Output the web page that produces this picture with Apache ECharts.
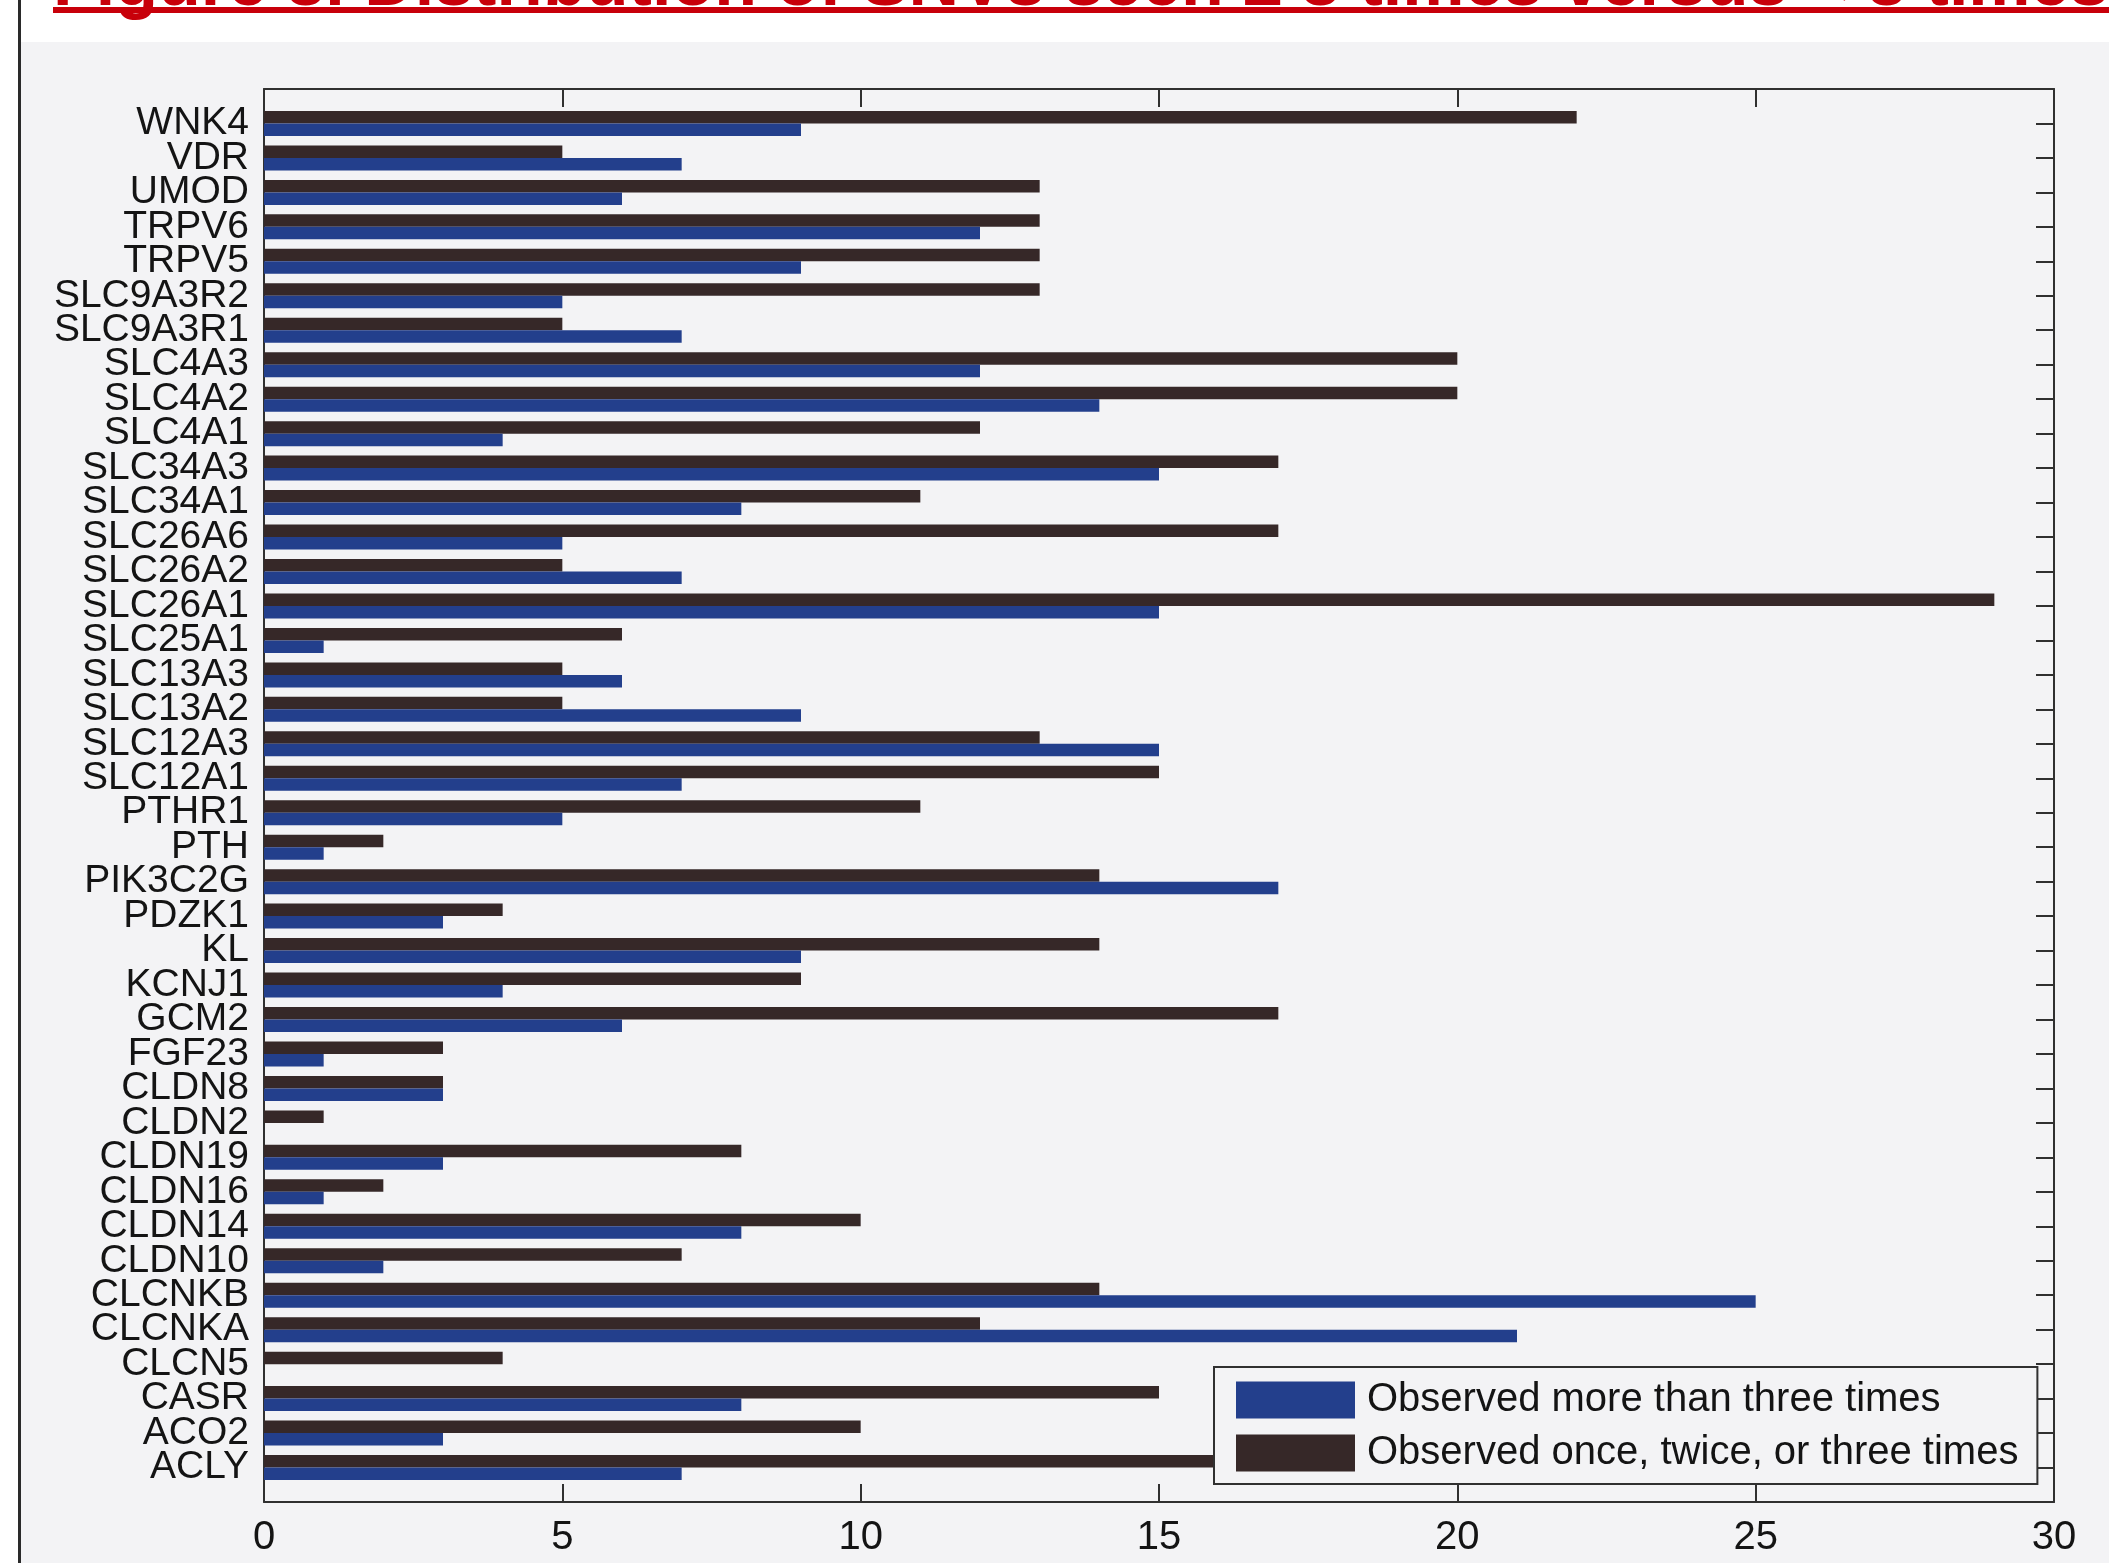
<!DOCTYPE html>
<html>
<head>
<meta charset="utf-8">
<title>SNV distribution</title>
<script src="https://cdn.jsdelivr.net/npm/echarts@6/dist/echarts.min.js"></script>
<style>
    html, body { margin: 0; padding: 0; background: #ffffff; }
    #chart { width: 2109px; height: 1563px; }
</style>
</head>
<body>
<div id="chart"></div>
<script>
// genes from bottom (ACLY) to top (WNK4), same order as the y axis
var genes = ["ACLY", "ACO2", "CASR", "CLCN5", "CLCNKA", "CLCNKB", "CLDN10", "CLDN14", "CLDN16", "CLDN19",
    "CLDN2", "CLDN8", "FGF23", "GCM2", "KCNJ1", "KL", "PDZK1", "PIK3C2G", "PTH", "PTHR1",
    "SLC12A1", "SLC12A3", "SLC13A2", "SLC13A3", "SLC25A1", "SLC26A1", "SLC26A2", "SLC26A6", "SLC34A1", "SLC34A3",
    "SLC4A1", "SLC4A2", "SLC4A3", "SLC9A3R1", "SLC9A3R2", "TRPV5", "TRPV6", "UMOD", "VDR", "WNK4"];

// Observed more than three times (blue)
var moreThanThree = [7, 3, 8, 0, 21, 25, 2, 8, 1, 3,
    0, 3, 1, 6, 4, 9, 3, 17, 1, 5,
    7, 15, 9, 6, 1, 15, 7, 5, 8, 15,
    4, 14, 12, 7, 5, 9, 12, 6, 7, 9];

// Observed once, twice, or three times (dark)
var oneToThree = [18, 10, 15, 4, 12, 14, 7, 10, 2, 8,
    1, 3, 3, 17, 9, 14, 4, 14, 2, 11,
    15, 13, 5, 5, 6, 29, 5, 17, 11, 17,
    12, 20, 20, 5, 13, 13, 13, 13, 5, 22];

var xTicks = { min: 0, max: 30, interval: 5 };

var seriesNames = ["Observed more than three times", "Observed once, twice, or three times"];
var titleText = "Figure 3. Distribution of SNVs seen \u2265 3 times versus < 3 times";

var FONT = "'Liberation Sans', Arial, Helvetica, sans-serif";
var PAPER = "#f3f3f5";
var BLUE = "#233f8c";
var DARK = "#362828";
var LINE = "#303030";
var TEXT = "#141414";

/**
 * MATLAB style limits: an empty slot below and above the genes
 */
function padded(arr, blank) {
    return [blank].concat(arr, [blank]);
}

function buildOption() {
    var cats = padded(genes, "");
    var tick = { show: true, inside: true, length: 18, lineStyle: { color: LINE, width: 2 } };
    var axisLine = { show: true, onZero: false, lineStyle: { color: LINE, width: 2 } };

    return {
        backgroundColor: PAPER,
        animation: false,
        textStyle: { fontFamily: FONT },
        graphic: [
            { type: "rect", shape: { x: 0, y: 0, width: 2109, height: 42 }, style: { fill: "#ffffff" }, z: -10 },
            { type: "rect", shape: { x: 0, y: 0, width: 19, height: 1563 }, style: { fill: "#ffffff" }, z: -10 },
            { type: "rect", shape: { x: 18, y: 0, width: 3, height: 1563 }, style: { fill: "#2a2a2a" }, z: -9 },
            {
                type: "text", x: 53, y: 21, z: -9,
                style: {
                    text: titleText, fill: "#c8000a", fontSize: 70, fontWeight: "bold",
                    fontFamily: FONT, verticalAlign: "bottom", align: "left"
                }
            },
            { type: "rect", shape: { x: 53, y: 7, width: 2056, height: 6 }, style: { fill: "#c8000a" }, z: -8 }
        ],
        grid: { left: 264, right: 55, top: 89, bottom: 61, containLabel: false },
        legend: {
            orient: "vertical",
            left: 1214,
            top: 1367,
            data: seriesNames,
            icon: "rect",
            itemWidth: 119,
            itemHeight: 37,
            itemGap: 13,
            padding: [13, 19, 11, 22],
            borderColor: LINE,
            borderWidth: 2,
            borderRadius: 0,
            backgroundColor: PAPER,
            textStyle: { fontSize: 40, color: TEXT, fontFamily: FONT, padding: [0, 0, 0, 7] }
        },
        xAxis: [
            {
                type: "value", position: "bottom",
                min: xTicks.min, max: xTicks.max, interval: xTicks.interval,
                axisLine: axisLine, axisTick: tick, splitLine: { show: false },
                axisLabel: { fontSize: 40, color: TEXT, margin: 16, fontFamily: FONT }
            },
            {
                type: "value", position: "top",
                min: xTicks.min, max: xTicks.max, interval: xTicks.interval,
                axisLine: axisLine, axisTick: tick, splitLine: { show: false },
                axisLabel: { show: false }
            }
        ],
        yAxis: [
            {
                type: "category", position: "left", data: cats, boundaryGap: false,
                axisLine: axisLine, axisTick: { show: false }, splitLine: { show: false },
                axisLabel: { interval: 0, fontSize: 39, color: TEXT, margin: 15, fontFamily: FONT }
            },
            {
                type: "category", position: "right", data: cats, boundaryGap: false,
                axisLine: axisLine, axisTick: tick, splitLine: { show: false },
                axisLabel: { show: false }
            }
        ],
        series: [
            {
                name: seriesNames[1],
                type: "bar",
                xAxisIndex: 0, yAxisIndex: 0,
                barWidth: 12.5, barGap: "0%",
                itemStyle: { color: DARK },
                data: padded(oneToThree, "-")
            },
            {
                name: seriesNames[0],
                type: "bar",
                xAxisIndex: 0, yAxisIndex: 0,
                barWidth: 12.5, barGap: "0%",
                itemStyle: { color: BLUE },
                data: padded(moreThanThree, "-")
            }
        ]
    };
}

var chart = echarts.init(document.getElementById("chart"));
chart.setOption(buildOption());
</script>
</body>
</html>
